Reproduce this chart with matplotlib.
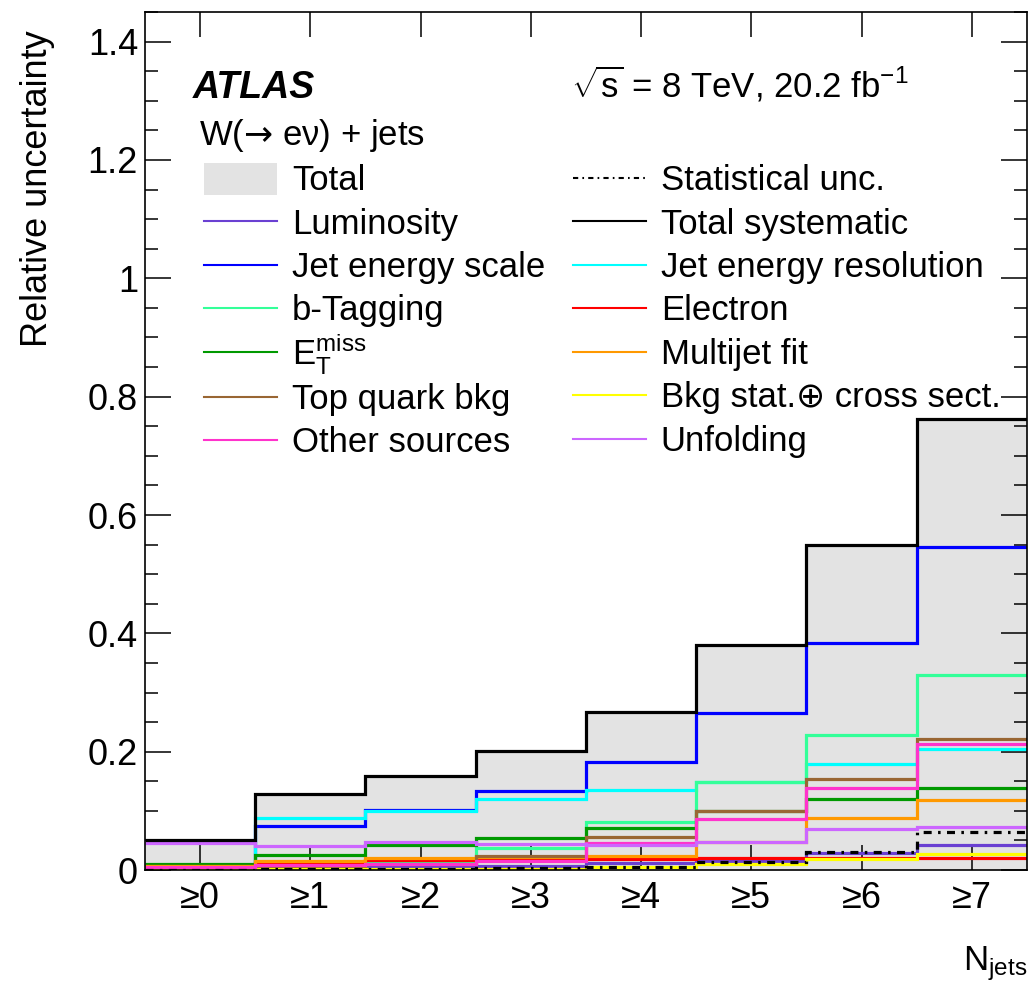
import numpy as np
import matplotlib
matplotlib.use('Agg')
import matplotlib.pyplot as plt
from matplotlib.ticker import MultipleLocator, FuncFormatter
from matplotlib.patches import Patch, Rectangle
from matplotlib.lines import Line2D
from matplotlib.legend_handler import HandlerPatch, HandlerLine2D

plt.rcParams['font.family'] = ['Liberation Sans', 'DejaVu Sans']
plt.rcParams['mathtext.fontset'] = 'custom'
plt.rcParams['mathtext.rm'] = 'Liberation Sans'
plt.rcParams['mathtext.it'] = 'Liberation Sans:italic'
plt.rcParams['mathtext.bf'] = 'Liberation Sans:bold'
plt.rcParams['mathtext.sf'] = 'DejaVu Sans'

# inclusive jet multiplicity bins
njet_labels = ['≥0', '≥1', '≥2', '≥3', '≥4', '≥5', '≥6', '≥7']

total = [0.0505, 0.128, 0.1595, 0.202, 0.2666, 0.380, 0.5495, 0.7625]
total_syst = [0.0505, 0.128, 0.1595, 0.202, 0.2666, 0.380, 0.5495, 0.7625]
stat = [0.0005, 0.001, 0.0015, 0.003, 0.0056, 0.013, 0.030, 0.065]
lumi = [0.002, 0.005, 0.006, 0.0068, 0.0124, 0.016, 0.028, 0.0417]
jes = [0.004, 0.0749, 0.1015, 0.134, 0.182, 0.266, 0.383, 0.5466]
jer = [0.003, 0.0885, 0.099, 0.1205, 0.135, 0.148, 0.179, 0.2046]
btag = [0.003, 0.006, 0.012, 0.037, 0.082, 0.148, 0.229, 0.330]
met = [0.0105, 0.0259, 0.0417, 0.0535, 0.0705, 0.100, 0.1205, 0.138]
electron = [0.006, 0.0113, 0.0169, 0.018, 0.0186, 0.0208, 0.0208, 0.0208]
multijet = [0.0075, 0.0152, 0.0208, 0.022, 0.024, 0.047, 0.0888, 0.118]
top_bkg = [0.001, 0.004, 0.010, 0.024, 0.056, 0.100, 0.154, 0.221]
bkg_xsec = [0.001, 0.002, 0.002, 0.0025, 0.0045, 0.010, 0.018, 0.0265]
other = [0.0045, 0.008, 0.010, 0.0147, 0.045, 0.086, 0.139, 0.2135]
unfolding = [0.046, 0.041, 0.048, 0.044, 0.043, 0.047, 0.069, 0.072]

edges = np.arange(len(njet_labels) + 1) - 0.5
centers = np.arange(len(njet_labels))

fig = plt.figure(figsize=(10.29, 9.86), dpi=100)
ax = fig.add_axes([0.1409, 0.1176, 0.8571, 0.8702])

ax.stairs(total, edges, fill=True, color='#e3e3e3', baseline=0, zorder=1)

lw = 2.3
stat_style = (0, (2.5, 2.0, 0.8, 2.0))
components = [
    (lumi, '#6a40d2'),
    (jes, '#0000ff'),
    (jer, '#00ffff'),
    (btag, '#33ff99'),
    (met, '#009900'),
    (electron, '#ff0000'),
    (multijet, '#ff9900'),
    (top_bkg, '#996633'),
    (bkg_xsec, '#ffff00'),
    (other, '#ff33cc'),
    (unfolding, '#cc66ff'),
]
for i, (vals, col) in enumerate(components):
    ax.stairs(vals, edges, baseline=None, color=col, lw=lw, zorder=2 + i * 0.01)

ax.stairs(stat, edges, baseline=None, color='black', lw=lw,
          linestyle=stat_style, zorder=3)
ax.stairs(total_syst, edges, baseline=None, color='black', lw=lw, zorder=3.1)

ax.set_xlim(edges[0], edges[-1])
ax.set_ylim(0, 1.45)

ax.set_xticks(centers)
ax.set_xticklabels(njet_labels)
ax.xaxis.set_minor_locator(plt.NullLocator())
ax.yaxis.set_major_locator(MultipleLocator(0.2))
ax.yaxis.set_minor_locator(MultipleLocator(0.05))
ax.yaxis.set_major_formatter(FuncFormatter(lambda v, p: '%g' % round(v, 2)))

ax.tick_params(which='both', direction='in', top=True, right=True,
               labelsize=26, width=1.1)
ax.tick_params(axis='y', which='major', length=19, pad=5)
ax.tick_params(axis='y', which='minor', length=9.5)
ax.tick_params(axis='x', which='major', length=18, pad=8)
for s in ax.spines.values():
    s.set_linewidth(1.2)

ax.set_ylabel('Relative uncertainty', fontsize=26, loc='top')
ax.yaxis.set_label_coords(-0.102, 0.979)
ax.set_xlabel(r'N$_{\mathrm{jets}}$', fontsize=25, loc='right')
ax.xaxis.set_label_coords(1.0, -0.087)

ax.text(0.0544, 0.8998, 'ATLAS', transform=ax.transAxes, fontsize=27,
        fontweight='bold', fontstyle='italic', va='baseline')
ax.text(0.483, 0.900, r'$\sqrt{\mathrm{s}}$ = 8 TeV, 20.2 fb$^{-1}$',
        transform=ax.transAxes, fontsize=25, va='baseline')
ax.text(0.0612, 0.845, r'W($\mathsf{→}$ eν) + jets', transform=ax.transAxes,
        fontsize=25, va='baseline')


def short_box(legend, orig_handle, xdescent, ydescent, width, height, fontsize):
    h = 0.92 * fontsize
    return Rectangle((-xdescent, -ydescent + (height - h) / 2), width, h)


class LowLine(HandlerLine2D):
    # sit the sample line a bit lower, level with the label text
    def create_artists(self, legend, orig_handle, xdescent, ydescent,
                       width, height, fontsize, trans):
        arts = super().create_artists(legend, orig_handle, xdescent, ydescent,
                                      width, height, fontsize, trans)
        for a in arts:
            a.set_ydata(np.asarray(a.get_ydata()) - 0.12 * fontsize)
        return arts


hl = 1.5
left_col = [
    (Patch(facecolor='#e3e3e3', edgecolor='none'), 'Total'),
    (Line2D([], [], color='#6a40d2', lw=hl), 'Luminosity'),
    (Line2D([], [], color='#0000ff', lw=hl), 'Jet energy scale'),
    (Line2D([], [], color='#33ff99', lw=hl), 'b-Tagging'),
    (Line2D([], [], color='#009900', lw=hl), r'E$_{\mathrm{T}}^{\mathrm{miss}}$'),
    (Line2D([], [], color='#996633', lw=hl), 'Top quark bkg'),
    (Line2D([], [], color='#ff33cc', lw=hl), 'Other sources'),
]
right_col = [
    (Line2D([], [], color='black', lw=hl, linestyle=stat_style), 'Statistical unc.'),
    (Line2D([], [], color='black', lw=hl), 'Total systematic'),
    (Line2D([], [], color='#00ffff', lw=hl), 'Jet energy resolution'),
    (Line2D([], [], color='#ff0000', lw=hl), 'Electron'),
    (Line2D([], [], color='#ff9900', lw=hl), 'Multijet fit'),
    (Line2D([], [], color='#ffff00', lw=hl), 'Bkg stat.⊕ cross sect.'),
    (Line2D([], [], color='#cc66ff', lw=hl), 'Unfolding'),
]
entries = left_col + right_col
ax.legend([h for h, _ in entries], [t for _, t in entries], ncol=2,
          loc='upper left', bbox_to_anchor=(0.067, 0.8312), frameon=False,
          fontsize=25, borderpad=0, borderaxespad=0, handlelength=2.1,
          handleheight=1.55, handletextpad=0.43, columnspacing=0.8,
          labelspacing=0.0,
          handler_map={Patch: HandlerPatch(patch_func=short_box),
                       Line2D: LowLine()})

fig.savefig('out.png', dpi=100)
